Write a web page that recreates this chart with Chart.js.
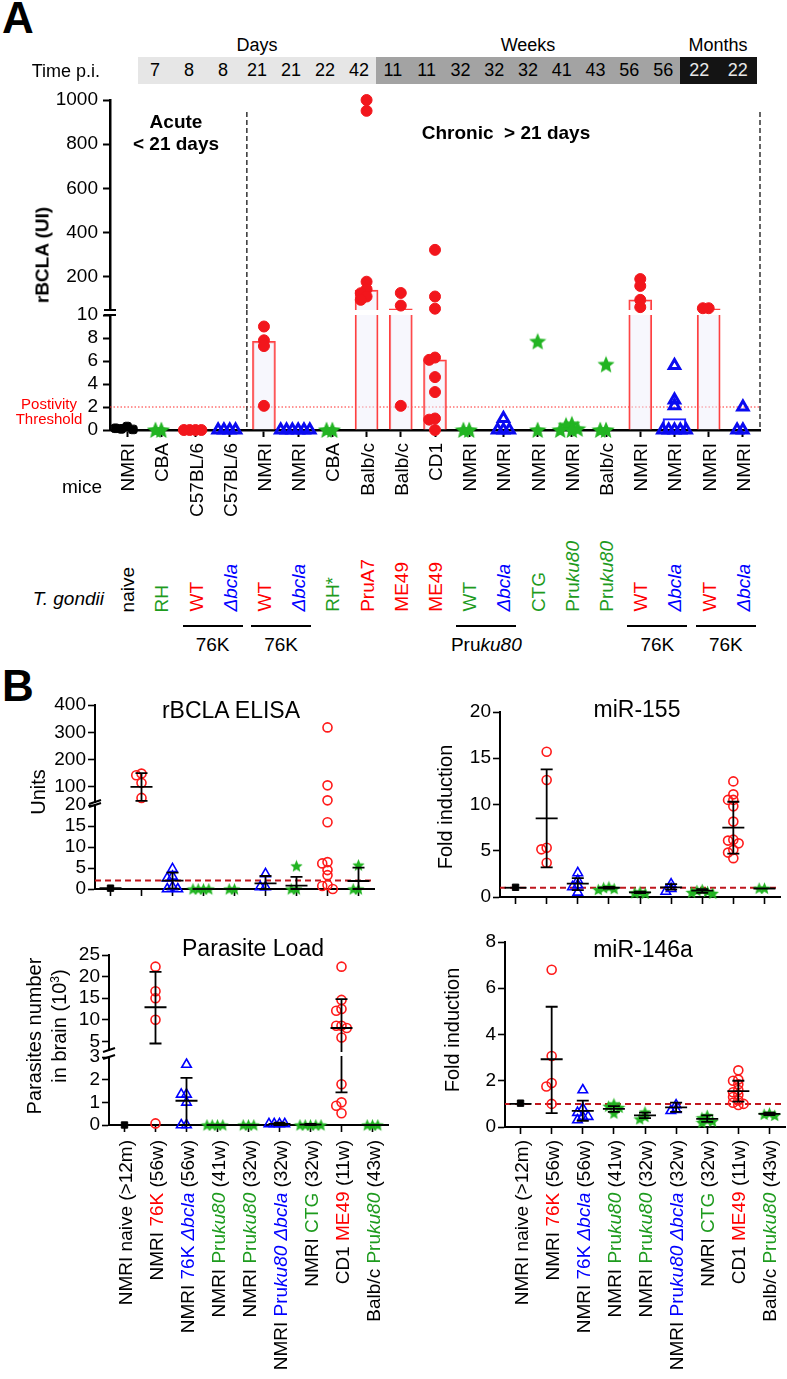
<!DOCTYPE html>
<html>
<head>
<meta charset="utf-8">
<script src="https://cdn.jsdelivr.net/npm/chart.js@4.4.1/dist/chart.umd.min.js"></script>
<style>
  body { margin: 0; background: #fff; }
  #fig { position: relative; width: 787px; height: 1379px; overflow: hidden;
         font-family: "Liberation Sans", Arial, sans-serif; color: #000; }
  #fig canvas { position: absolute; }
  .t { position: absolute; white-space: nowrap; line-height: 1; }
  .vl { position: absolute; writing-mode: vertical-rl; white-space: nowrap; line-height: 1;
        font-size: 19px; transform: translateX(-50%) rotate(180deg); }
  .r { color: #ff0000; } .b { color: #0000ff; } .g { color: #1e9b1e; }
</style>
</head>
<body>
<div id="fig"></div>
<script>
// ---------- Panel A data ----------
const miceA = ['NMRI', 'CBA', 'C57BL/6', 'C57BL/6', 'NMRI', 'NMRI', 'CBA', 'Balb/c', 'Balb/c', 'CD1',
  'NMRI', 'NMRI', 'NMRI', 'NMRI', 'Balb/c', 'NMRI', 'NMRI', 'NMRI', 'NMRI'];
const strainA = ['naive', 'RH', 'WT', '<i>Δbcla</i>', 'WT', '<i>Δbcla</i>', 'RH*', 'PruA7', 'ME49', 'ME49',
  'WT', '<i>Δbcla</i>', 'CTG', 'Pru<i>ku80</i>', 'Pru<i>ku80</i>', 'WT', '<i>Δbcla</i>', 'WT', '<i>Δbcla</i>'];
const classA = ['naive', 'other', 'pos', 'ko', 'pos', 'ko', 'other', 'pos', 'pos', 'pos',
  'other', 'ko', 'other', 'other', 'other', 'pos', 'ko', 'pos', 'ko'];
const timeDays = [7, 8, 8, 21, 21, 22, 42];
const timeWeeks = [11, 11, 32, 32, 32, 41, 43, 56, 56];
const timeMonths = [22, 22];
const rbclaA = [
  [0.3, 0.1, 0.05, 0.15],
  [0, 0],
  [0, 0, 0, 0],
  [0, 0, 0, 0],
  [9.0, 7.8, 7.3, 2.1],
  [0, 0, 0, 0, 0, 0],
  [0, 0],
  [1000, 951, 178, 144, 126, 111, 96],
  [127, 70, 2.1],
  [322, 111, 56, 6.3, 6.1, 4.6, 3.3, 1.0, 0.9, 0],
  [0, 0],
  [1.0, 0, 0, 0],
  [7.7, 0],
  [0.5, 0.4, 0.1, 0, 0],
  [5.7, 0, 0],
  [190, 159, 96, 63],
  [5.6, 2.6, 2.1, 0, 0, 0, 0, 0],
  [58, 58],
  [2.0, 0, 0]
];
const barA = [null, null, null, null, 7.7, null, null, 140, 55, 6.1, null, null, null, null, null, 96, 1.0, 55, null];
const yTicksAHigh = [200, 400, 600, 800, 1000];
const yTicksALow = [0, 2, 4, 6, 8, 10];
const thresholdA = 2;
const pairsA = [[2, 3, '76K'], [4, 5, '76K'], [10, 11, 'Pru<i>ku80</i>'], [15, 16, '76K'], [17, 18, '76K']];

// ---------- Panel B data ----------
const labelsB = [
  'NMRI naive (&gt;12m)',
  'NMRI <span class="r">76K</span> (56w)',
  'NMRI <span class="b">76K <i>Δbcla</i></span> (56w)',
  'NMRI <span class="g">Pru<i>ku80</i></span> (41w)',
  'NMRI <span class="g">Pru<i>ku80</i></span> (32w)',
  'NMRI <span class="b">Pru<i>ku80</i> <i>Δbcla</i></span> (32w)',
  'NMRI <span class="g">CTG</span> (32w)',
  'CD1 <span class="r">ME49</span> (11w)',
  'Balb/c <span class="g">Pru<i>ku80</i></span> (43w)'
];
const classB = ['naive', 'pos', 'ko', 'other', 'other', 'ko', 'other', 'pos', 'other'];

const elisa = [
  [0.2], [149, 143, 115, 60], [4.8, 3.0, 2.6, 0.5, 0, 0], [0, 0, 0, 0], [0, 0],
  [3.6, 0.5, 0.5], [5.5, 0, 0], [318, 106, 51, 15.9, 6.4, 6.1, 4.5, 3.3, 0.95, 0.7, 0], [5.7, 0, 0]
];
const elisaMean = [0.2, 100, 2.0, 0, 0, 1.35, 0.8, null, 1.9];
const elisaLo = [0.2, 49, 0.1, 0, 0, 0, 0, null, 0];
const elisaHi = [0.2, 151, 3.9, 0, 0, 3.1, 2.9, null, 5.1];

const para = [
  [0], [22.3, 16.6, 15.0, 10.0, 0.07], [2.67, 1.35, 1.35, 1.0, 0, 0], [0, 0, 0, 0], [0, 0, 0],
  [0.05, 0.05, 0.05, 0.05], [0, 0, 0, 0, 0],
  [22.3, 14.6, 12.5, 12.1, 8.6, 8.6, 8.1, 5.9, 1.8, 1.0, 0.85, 0.52], [0, 0, 0]
];
const paraMean = [0, 12.9, 1.07, 0, 0, 0.05, 0.02, 8.1, 0];
const paraLo = [0, 4.5, 0, 0, 0, 0, 0, 1.44, 0];
const paraHi = [0, 21.1, 2.08, 0, 0, 0.1, 0.05, 14.8, 0];

const mir155 = [
  [1.05], [15.7, 12.65, 5.33, 5.15, 3.7], [2.6, 1.8, 1.3, 1.1, 0.5], [1.1, 1.0, 0.9, 0.8],
  [0.55, 0.45, 0.4], [1.4, 0.9, 0.6], [0.8, 0.7, 0.6, 0.5, 0.4],
  [12.5, 11.1, 10.5, 10.5, 9.8, 8.15, 6.2, 6.1, 5.8, 5.1, 4.8, 4.2], [0.95, 0.95]
];
const mean155 = [1.0, 8.5, 1.45, 1.0, 0.5, 1.05, 0.68, 7.5, 0.92];
const lo155 = [1.0, 3.2, 0.75, 0.9, 0.42, 0.8, 0.45, 4.7, 0.9];
const hi155 = [1.0, 13.8, 2.05, 1.1, 0.58, 1.4, 0.85, 10.3, 0.94];

const mir146 = [
  [1.03], [6.8, 3.07, 1.9, 1.75, 1.0], [1.6, 0.8, 0.62, 0.45, 0.45, 0.3], [1.0, 0.9, 0.85, 0.6],
  [0.65, 0.45, 0.35], [0.95, 0.75, 0.7], [0.5, 0.4, 0.3, 0.25, 0.2],
  [2.45, 2.05, 2.0, 1.85, 1.6, 1.5, 1.4, 1.3, 1.15, 1.05, 1.0, 0.95], [0.6, 0.55, 0.5]
];
const mean146 = [1.0, 2.93, 0.7, 0.78, 0.5, 0.85, 0.35, 1.55, 0.57];
const lo146 = [1.0, 0.6, 0.27, 0.65, 0.38, 0.65, 0.22, 1.1, 0.52];
const hi146 = [1.0, 5.2, 1.14, 0.9, 0.62, 1.05, 0.5, 2.0, 0.62];

// ---------- helpers ----------
const FONT = '"Liberation Sans", Arial, sans-serif';
Chart.defaults.font.family = FONT;
const fig = document.getElementById('fig');
const PAD = 24;

function starImg(size, color) {
  const c = document.createElement('canvas');
  c.width = c.height = size;
  const g = c.getContext('2d');
  const R = size / 2, r = R * 0.45;
  g.beginPath();
  for (let k = 0; k < 10; k++) {
    const ang = -Math.PI / 2 + k * Math.PI / 5;
    const rr = k % 2 ? r : R;
    g.lineTo(R + rr * Math.cos(ang), R + 0.6 + rr * Math.sin(ang));
  }
  g.closePath();
  g.fillStyle = color;
  g.fill();
  return c;
}

const stylesA = {
  naive: { pointStyle: 'rectRounded', pointRadius: 5, pointBackgroundColor: '#000', pointBorderColor: '#000', pointBorderWidth: 1 },
  pos: { pointStyle: 'circle', pointRadius: 5.5, pointBackgroundColor: '#f2161c', pointBorderColor: '#f2161c', pointBorderWidth: 1 },
  ko: { pointStyle: 'triangle', pointRadius: 6, pointBackgroundColor: 'rgba(0,0,0,0)', pointBorderColor: '#0a0af0', pointBorderWidth: 3 },
  other: { pointStyle: starImg(18, '#22b422'), pointRadius: 9 }
};
const stylesB = {
  naive: { pointStyle: 'rect', pointRadius: 4.5, pointBackgroundColor: '#000', pointBorderColor: '#000', pointBorderWidth: 1 },
  pos: { pointStyle: 'circle', pointRadius: 4.5, pointBackgroundColor: 'rgba(0,0,0,0)', pointBorderColor: '#ff1a1a', pointBorderWidth: 1.6 },
  ko: { pointStyle: 'triangle', pointRadius: 5.5, pointBackgroundColor: 'rgba(0,0,0,0)', pointBorderColor: '#0000ff', pointBorderWidth: 1.6 },
  other: { pointStyle: starImg(13, '#22b422'), pointRadius: 6 }
};

// simple beeswarm so that close points spread sideways
function swarm(vals, pxY, pxX, d, step) {
  const placed = [];
  const order = [0, -1, 1, -2, 2, -3, 3, -4, 4];
  return vals.map(v => {
    let dx = 0;
    for (const k of order) {
      dx = k * step;
      if (placed.every(p => Math.hypot((p.dx - dx) * pxX, (p.v - v) * pxY) >= d)) break;
    }
    placed.push({ v, dx });
    return dx;
  });
}

function extrasPlugin(ex) {
  return {
    id: 'extras',
    beforeDatasetsDraw(chart) {
      const { ctx, chartArea: a, scales: { x, y } } = chart;
      if (ex.hline) {
        const py = y.getPixelForValue(ex.hline.v);
        ctx.save();
        ctx.strokeStyle = ex.hline.color; ctx.lineWidth = ex.hline.width; ctx.setLineDash(ex.hline.dash);
        ctx.beginPath(); ctx.moveTo(a.left, py); ctx.lineTo(a.right, py); ctx.stroke();
        ctx.restore();
      }
      if (ex.vlines) {
        ctx.save();
        ctx.strokeStyle = '#333'; ctx.lineWidth = 1.5; ctx.setLineDash([5, 3]);
        ex.vlines.xs.forEach(v => {
          const px = x.getPixelForValue(v);
          ctx.beginPath(); ctx.moveTo(px, a.top + ex.vlines.from); ctx.lineTo(px, a.bottom); ctx.stroke();
        });
        ctx.restore();
      }
    },
    afterDatasetsDraw(chart) {
      const { ctx, chartArea: a, scales: { x, y } } = chart;
      if (ex.err) {
        const { mean, lo, hi } = ex.err;
        ctx.save();
        ctx.beginPath(); ctx.rect(a.left - 30, a.top - 1, a.right - a.left + 60, a.bottom - a.top + 3); ctx.clip();
        ctx.strokeStyle = '#000'; ctx.lineWidth = 1.8;
        mean.forEach((m, i) => {
          if (m == null) return;
          const px = x.getPixelForValue(i);
          const pm = y.getPixelForValue(m), pl = y.getPixelForValue(lo[i]), ph = y.getPixelForValue(hi[i]);
          ctx.beginPath();
          ctx.moveTo(px - 11, pm); ctx.lineTo(px + 11, pm);
          ctx.moveTo(px, pl); ctx.lineTo(px, ph);
          if (hi[i] > m) { ctx.moveTo(px - 6, ph); ctx.lineTo(px + 6, ph); }
          if (lo[i] < m) { ctx.moveTo(px - 6, pl); ctx.lineTo(px + 6, pl); }
          ctx.stroke();
        });
        ctx.restore();
      }
    },
    afterDraw(chart) {
      const { ctx, chartArea: a } = chart;
      if (!ex.brk) return;
      const yb = ex.brk.pos === 'top' ? a.top : a.bottom;
      ctx.save();
      ctx.strokeStyle = '#000'; ctx.lineWidth = 2;
      ctx.beginPath();
      if (ex.brk.style === 'flat') {
        ctx.moveTo(a.left - 6, yb); ctx.lineTo(a.left + 6, yb);
      } else {
        ctx.moveTo(a.left - 6, yb + 2); ctx.lineTo(a.left + 6, yb - 2);
      }
      ctx.stroke();
      ctx.restore();
    }
  };
}

function panel(cfg) {
  const { area, min, max, ticks, groups, classes, styles, keep, showX, bw } = cfg;
  const n = classes.length;
  const pxY = (area.b - area.t) / (max - min);
  const pxX = (area.r - area.l) / n;
  const sets = {};
  groups.forEach((vals, i) => {
    const inside = vals.filter(keep);
    const dx = swarm(inside, pxY, pxX, cfg.gap, 0.17);
    inside.forEach((v, k) => { (sets[classes[i]] ||= []).push({ x: i + dx[k], y: v }); });
  });
  const datasets = Object.keys(sets).map(c => Object.assign({ data: sets[c], clip: false, order: 1 }, styles[c]));
  if (cfg.bars) datasets.push(cfg.bars);

  const c = document.createElement('canvas');
  c.width = area.r + PAD;
  c.height = area.b - area.t + 2 * PAD;
  c.style.left = '0px';
  c.style.top = (area.t - PAD) + 'px';
  fig.appendChild(c);

  return new Chart(c, {
    type: 'scatter',
    data: { datasets },
    options: {
      responsive: false,
      animation: false,
      events: [],
      layout: { padding: { top: PAD, right: PAD, left: 0, bottom: showX ? 0 : PAD } },
      plugins: { legend: { display: false }, tooltip: { enabled: false } },
      scales: {
        x: {
          type: 'linear', min: -0.5, max: n - 0.5, display: showX, offset: false,
          afterBuildTicks: s => { s.ticks = classes.map((_, i) => ({ value: i })); },
          afterFit: s => { s.height = showX ? PAD : 0; },
          border: { display: true, color: '#000', width: bw },
          grid: { offset: false, drawOnChartArea: false, tickLength: 7, tickWidth: bw * 0.8, color: '#000' },
          ticks: { display: false }
        },
        y: {
          type: 'linear', min, max,
          afterBuildTicks: s => { s.ticks = ticks.map(v => ({ value: v })); },
          afterFit: s => { s.width = area.l; },
          border: { display: true, color: '#000', width: bw },
          grid: { drawOnChartArea: false, tickLength: 7, tickWidth: bw * 0.8, color: '#000' },
          ticks: { color: '#000', padding: cfg.tickPad, autoSkip: false, font: { family: FONT, size: 19 },
                   callback: v => String(v) }
        }
      }
    },
    plugins: [extrasPlugin(cfg.extras || {})]
  });
}

function txt(html, x, y, o = {}) {
  const d = document.createElement('div');
  d.className = 't';
  d.innerHTML = html;
  const ax = o.anchor === 'r' ? '-100%' : o.anchor === 'l' ? '0' : '-50%';
  d.style.left = x + 'px';
  d.style.top = y + 'px';
  d.style.fontSize = (o.size || 19) + 'px';
  if (o.bold) d.style.fontWeight = 'bold';
  if (o.color) d.style.color = o.color;
  if (o.css) d.style.cssText += o.css;
  d.style.transform = `translate(${ax},-50%)` + (o.rot ? ' rotate(-90deg)' : '');
  fig.appendChild(d);
  return d;
}

function vlabel(html, x, o) {
  const d = document.createElement('div');
  d.className = 'vl';
  d.innerHTML = html;
  d.style.left = x + 'px';
  if (o.top != null) d.style.top = o.top + 'px';
  if (o.bottom != null) d.style.bottom = (1379 - o.bottom) + 'px';
  if (o.cls) d.className += ' ' + o.cls;
  fig.appendChild(d);
}

// ---------- Panel A ----------
function barSet(minVisible) {
  const data = [], border = [], fill = [];
  barA.forEach((v, i) => {
    if (v == null || v < minVisible) return;
    data.push({ x: i, y: v });
    border.push(classA[i] === 'ko' ? '#2020ff' : '#ff4040');
    fill.push(classA[i] === 'ko' ? 'rgba(0,0,0,0)' : 'rgba(240,240,252,0.5)');
  });
  return { type: 'bar', data, barThickness: 23, borderWidth: 1.5, borderColor: border, backgroundColor: fill,
           borderSkipped: 'start', grouped: false, clip: 0, order: 2 };
}

const A_LOW_MAX = 10;
const aHigh = panel({
  area: { l: 110, t: 100, r: 760, b: 310 }, min: 50, max: 1000, ticks: yTicksAHigh,
  groups: rbclaA, classes: classA, styles: stylesA, keep: v => v > A_LOW_MAX, gap: 5.5,
  showX: false, bw: 2.5, tickPad: 5, bars: barSet(50),
  extras: { vlines: { xs: [3.5, 18.5], from: 12 }, brk: { pos: 'bottom', style: 'flat' } }
});
const aLow = panel({
  area: { l: 110, t: 315, r: 760, b: 430 }, min: 0, max: A_LOW_MAX, ticks: yTicksALow,
  groups: rbclaA, classes: classA, styles: stylesA, keep: v => v <= A_LOW_MAX, gap: 5.5,
  showX: true, bw: 2.5, tickPad: 5, bars: barSet(0),
  extras: {
    hline: { v: thresholdA, color: '#ff2a2a', width: 1, dash: [1.5, 2] },
    vlines: { xs: [3.5, 18.5], from: -5 }, brk: { pos: 'top', style: 'flat' }
  }
});

txt('A', 2, 18, { anchor: 'l', size: 44, bold: true });
txt('Days', 257, 45, { size: 18 });
txt('Weeks', 528, 45, { size: 18 });
txt('Months', 718, 45, { size: 18 });
txt('Time p.i.', 100, 71, { anchor: 'r', size: 18 });

function headerBox(x0, x1, bg, fg, nums) {
  const d = document.createElement('div');
  d.style.cssText = `position:absolute;left:${x0}px;top:57px;width:${x1 - x0}px;height:27px;` +
    `background:${bg};color:${fg};display:flex;align-items:center;font-size:18px;`;
  nums.forEach(n => {
    const s = document.createElement('span');
    s.style.cssText = 'flex:1;text-align:center;';
    s.textContent = n;
    d.appendChild(s);
  });
  fig.appendChild(d);
}
headerBox(138, 376, '#e6e6e6', '#000', timeDays);
headerBox(376, 680, '#a3a3a3', '#000', timeWeeks);
headerBox(680, 757, '#141414', '#e8e8e8', timeMonths);

txt('Acute<br>&lt; 21 days', 176, 133, { bold: true, css: 'text-align:center;line-height:1.15;' });
txt('Chronic &nbsp;&gt; 21 days', 506, 132, { bold: true });
txt('rBCLA (UI)', 42, 255, { bold: true, rot: true });
txt('Postivity<br>Threshold', 49, 411, { size: 15, color: '#ff0000', css: 'text-align:center;line-height:1.0;' });

const colorCls = { naive: '', pos: 'r', ko: 'b', other: 'g' };
miceA.forEach((m, i) => vlabel(m, aLow.scales.x.getPixelForValue(i), { top: 443 }));
strainA.forEach((s, i) => vlabel(s, aLow.scales.x.getPixelForValue(i), { bottom: 612, cls: colorCls[classA[i]] }));
txt('mice', 102, 486, { anchor: 'r' });
txt('<i>T. gondii</i>', 104, 598, { anchor: 'r' });

pairsA.forEach(([i, j, lab]) => {
  const x0 = aLow.scales.x.getPixelForValue(i) - 13, x1 = aLow.scales.x.getPixelForValue(j) + 13;
  const u = document.createElement('div');
  u.style.cssText = `position:absolute;left:${x0}px;top:625px;width:${x1 - x0}px;border-top:2px solid #000;`;
  fig.appendChild(u);
  txt(lab, (x0 + x1) / 2, 644);
});

// ---------- Panel B ----------
txt('B', 2, 686, { anchor: 'l', size: 44, bold: true });

const errE = { mean: elisaMean, lo: elisaLo, hi: elisaHi };
panel({
  area: { l: 95, t: 705, r: 374, b: 802 }, min: 45, max: 400, ticks: [100, 200, 300, 400],
  groups: elisa, classes: classB, styles: stylesB, keep: v => v > 20, gap: 4.5,
  showX: false, bw: 2, tickPad: 2, extras: { err: errE, brk: { pos: 'bottom', style: 'slash' } }
});
panel({
  area: { l: 95, t: 805, r: 374, b: 889 }, min: 0, max: 20, ticks: [0, 5, 10, 15, 20],
  groups: elisa, classes: classB, styles: stylesB, keep: v => v <= 20, gap: 4.5,
  showX: true, bw: 2, tickPad: 2,
  extras: { err: errE, hline: { v: 2, color: '#c0161d', width: 2, dash: [6, 4] }, brk: { pos: 'top', style: 'slash' } }
});

const errP = { mean: paraMean, lo: paraLo, hi: paraHi };
panel({
  area: { l: 109, t: 955, r: 388, b: 1050 }, min: 3, max: 25, ticks: [5, 10, 15, 20, 25],
  groups: para, classes: classB, styles: stylesB, keep: v => v > 3, gap: 4.5,
  showX: false, bw: 2, tickPad: 2, extras: { err: errP, brk: { pos: 'bottom', style: 'slash' } }
});
const pLow = panel({
  area: { l: 109, t: 1057, r: 388, b: 1125 }, min: 0, max: 3, ticks: [0, 1, 2, 3],
  groups: para, classes: classB, styles: stylesB, keep: v => v <= 3, gap: 4.5,
  showX: true, bw: 2, tickPad: 2, extras: { err: errP, brk: { pos: 'top', style: 'slash' } }
});

panel({
  area: { l: 500, t: 712, r: 780, b: 897 }, min: 0, max: 20, ticks: [0, 5, 10, 15, 20],
  groups: mir155, classes: classB, styles: stylesB, keep: () => true, gap: 4.5,
  showX: true, bw: 2, tickPad: 2,
  extras: { err: { mean: mean155, lo: lo155, hi: hi155 }, hline: { v: 1, color: '#c0161d', width: 2, dash: [6, 4] } }
});
const m146 = panel({
  area: { l: 505, t: 942, r: 785, b: 1127 }, min: 0, max: 8, ticks: [0, 2, 4, 6, 8],
  groups: mir146, classes: classB, styles: stylesB, keep: () => true, gap: 4.5,
  showX: true, bw: 2, tickPad: 2,
  extras: { err: { mean: mean146, lo: lo146, hi: hi146 }, hline: { v: 1, color: '#c0161d', width: 2, dash: [6, 4] } }
});

txt('rBCLA ELISA', 231, 710, { size: 23 });
txt('Parasite Load', 253, 948, { size: 23 });
txt('miR-155', 637, 709, { size: 23 });
txt('miR-146a', 643, 949, { size: 23 });
txt('Units', 38, 792, { rot: true, size: 20 });
txt('Parasites number', 34, 1036, { rot: true, size: 20 });
txt('in brain (10<sup style="font-size:12px">3</sup>)', 59, 1026, { rot: true, size: 20 });
txt('Fold induction', 445, 807, { rot: true, size: 20 });
txt('Fold induction', 452, 1030, { rot: true, size: 20 });

labelsB.forEach((l, i) => {
  vlabel(l, pLow.scales.x.getPixelForValue(i), { top: 1140 });
  vlabel(l, m146.scales.x.getPixelForValue(i), { top: 1140 });
});
</script>
</body>
</html>
